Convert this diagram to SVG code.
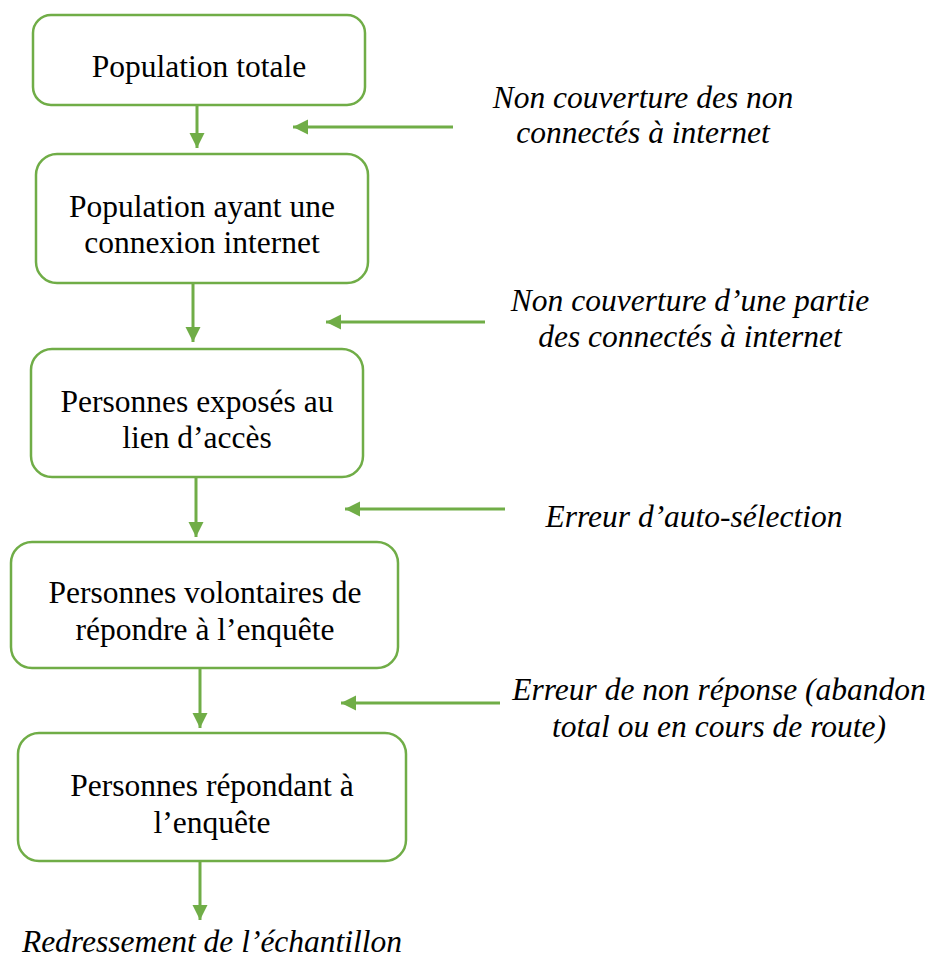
<svg xmlns="http://www.w3.org/2000/svg" width="931" height="960" viewBox="0 0 931 960">
<style>
.box{fill:#fff;stroke:#70AD47;stroke-width:2.5}
.t{font-family:'Liberation Serif',serif;font-size:31.5px;fill:#000;text-anchor:middle}
.i{font-style:italic}
.c{stroke:#70AD47;stroke-width:3;fill:none;marker-end:url(#ah)}
</style>
<defs>
<marker id="ah" markerUnits="userSpaceOnUse" markerWidth="16" markerHeight="16" refX="15" refY="7.5" orient="auto">
<path d="M0,0 L15,7.5 L0,15 z" fill="#70AD47"/>
</marker>
</defs>
<rect width="931" height="960" fill="#fff"/>
<g id="connectors">
<line class="c" x1="197" y1="106" x2="197" y2="148"/>
<line class="c" x1="193" y1="284" x2="193" y2="342"/>
<line class="c" x1="196" y1="478" x2="196" y2="537"/>
<line class="c" x1="200" y1="669" x2="200" y2="728"/>
<line class="c" x1="200" y1="862" x2="200" y2="920"/>
<line class="c" x1="453" y1="127" x2="293" y2="127"/>
<line class="c" x1="485" y1="322" x2="326" y2="322"/>
<line class="c" x1="505" y1="509" x2="345" y2="509"/>
<line class="c" x1="500" y1="703" x2="341" y2="703"/>
</g>
<g id="n1"><rect class="box" x="33" y="15" width="332" height="90" rx="18"/><text class="t" font-family="Liberation Serif, serif" x="199" y="77">Population totale</text></g>
<g id="n2"><rect class="box" x="36" y="154" width="332" height="129" rx="21"/><text class="t" x="202" y="217">Population ayant une</text><text class="t" x="202" y="253">connexion internet</text></g>
<g id="n3"><rect class="box" x="31" y="349" width="332" height="128" rx="21"/><text class="t" x="197" y="412">Personnes exposés au</text><text class="t" x="197" y="448">lien d’accès</text></g>
<g id="n4"><rect class="box" x="11" y="542" width="387" height="126" rx="21"/><text class="t" x="205" y="603">Personnes volontaires de</text><text class="t" x="205" y="640">répondre à l’enquête</text></g>
<g id="n5"><rect class="box" x="18" y="733" width="388" height="128" rx="21"/><text class="t" x="212" y="796">Personnes répondant à</text><text class="t" x="212" y="833">l’enquête</text></g>
<g id="l1"><text class="t i" x="643" y="108">Non couverture des non</text><text class="t i" x="643" y="143">connectés à internet</text></g>
<g id="l2"><text class="t i" x="690" y="311">Non couverture d’une partie</text><text class="t i" x="690" y="347">des connectés à internet</text></g>
<g id="l3"><text class="t i" x="694" y="527">Erreur d’auto-sélection</text></g>
<g id="l4"><text class="t i" x="719" y="700">Erreur de non réponse (abandon</text><text class="t i" x="719" y="737">total ou en cours de route)</text></g>
<g id="l5"><text class="t i" x="212" y="952">Redressement de l’échantillon</text></g>
</svg>
